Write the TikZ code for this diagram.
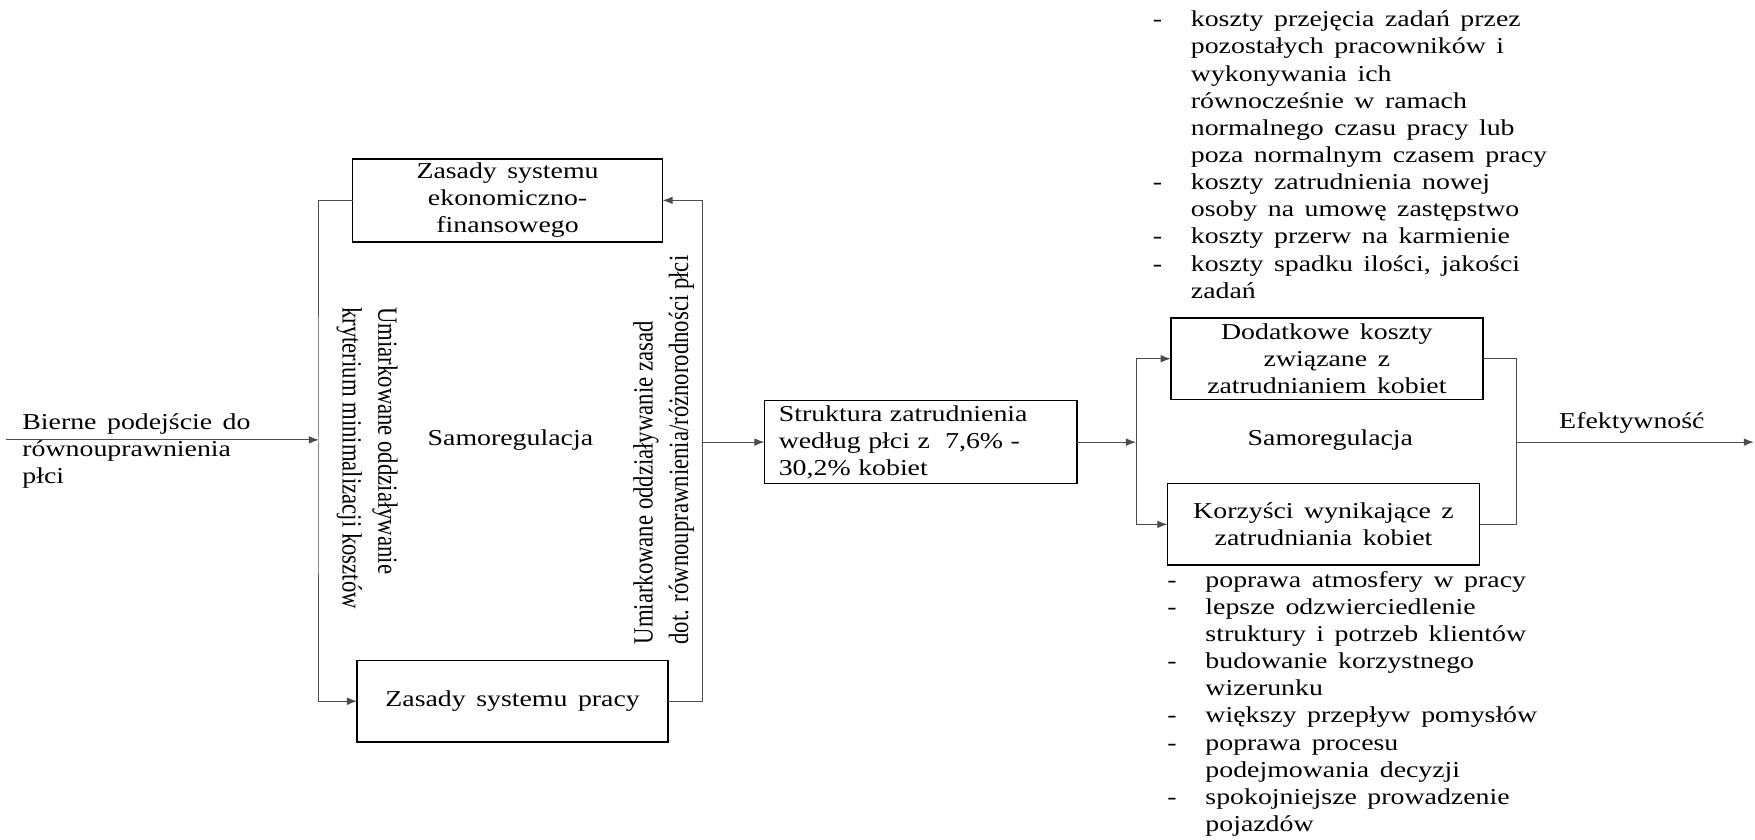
\documentclass[tikz,border=0pt]{standalone}
\usepackage{fontspec}
\setmainfont{Liberation Serif}[FakeStretch=1.225]
\newfontfamily\uprightserif{Liberation Serif}
\usetikzlibrary{arrows.meta}

% body text: wide word spacing as in the printed figure
\newcommand{\bodysize}{\fontsize{10.15pt}{12.12pt}\selectfont
  \spaceskip=4.7pt plus 1pt minus 0.5pt\relax}

\begin{document}
\begin{tikzpicture}[x=0.5pt, y=-0.5pt,
  every node/.style={inner sep=0pt, outer sep=0pt, font=\bodysize},
  box/.style={draw=black, line width=0.7pt, align=center},
  conn/.style={draw=black!70, line width=0.45pt},
  arr/.style={conn, -{Latex[length=4.5pt, width=3.4pt]}},
  vtext/.style={font=\uprightserif\fontsize{10.15pt}{13pt}\selectfont, align=left},
  lbl/.style={anchor=base},
]
\useasboundingbox (0,0) rectangle (1568,750);

% --- boxes ---
\node[box, minimum width=138.5pt, minimum height=37pt] (TB) at (453.5,179)
  {Zasady systemu\\ekonomiczno-\\finansowego};
\node[box, minimum width=139pt, minimum height=36.5pt] (BB) at (458,626.5)
  {Zasady systemu pracy};
\node[box, align=left, text width=126.7pt, inner xsep=6.4pt, minimum height=37pt] (SB) at (822.5,395)
  {Struktura zatrudnienia\\według płci z\ \ 7,6\% -\\30,2\% kobiet};
\node[box, minimum width=139.5pt, minimum height=36.5pt] (DB) at (1185.5,320.5)
  {Dodatkowe koszty\\związane z\\zatrudnianiem kobiet};
\node[box, minimum width=139.5pt, minimum height=36.5pt] (KB) at (1182.5,468.5)
  {Korzyści wynikające z\\zatrudniania kobiet};

% --- junction points ---
\coordinate (inL) at (5,393);
\coordinate (lx) at (285,393);
\coordinate (rx) at (628,395);
\coordinate (bx) at (1015,395);
\coordinate (ox) at (1355,395);
\coordinate (outR) at (1567,395);

% --- connectors ---
\draw[arr] (inL) -- (lx);
\draw[arr] (TB.west) -| (lx) |- (BB.west);
\draw[arr] (BB.east) -| (rx) |- (TB.east);
\draw[arr] (rx) -- (SB.west);
\draw[arr] (SB.east) -- (bx);
\draw[arr] (bx) |- (DB.west);
\draw[arr] (bx) |- (KB.west);
\draw[conn] (DB.east) -| (ox) |- (KB.east);
\draw[arr] (ox) -- (outR);

% --- labels ---
\node[anchor=base west] (passive) at (20,383.3)
  {\begin{tabular}[t]{@{}l@{}}Bierne podejście do\\równouprawnienia\\płci\end{tabular}};
\node[lbl] (selfL) at (456,397.6) {Samoregulacja};
\node[lbl] (selfR) at (1188.6,397.6) {Samoregulacja};
\node[lbl] (eff) at (1458,383) {Efektywność};

\node[vtext, xscale=1.225, rotate=-90, anchor=west] (crit) at (328,274.5)
  {Umiarkowane oddziaływanie\\kryterium minimalizacji kosztów};
\node[vtext, xscale=1.225, rotate=90, anchor=west] (equal) at (593,575.7)
  {Umiarkowane oddziaływanie zasad\\dot. równouprawnienia/różnorodności płci};

% --- lists of costs and benefits ---
\node[anchor=base west] (costs) at (1030,24)
  {\begin{tabular}[t]{@{}p{17pt}@{}l@{}}
  - & koszty przejęcia zadań przez\\
    & pozostałych pracowników i\\
    & wykonywania ich\\
    & równocześnie w ramach\\
    & normalnego czasu pracy lub\\
    & poza normalnym czasem pracy\\
  - & koszty zatrudnienia nowej\\
    & osoby na umowę zastępstwo\\
  - & koszty przerw na karmienie\\
  - & koszty spadku ilości, jakości\\
    & zadań
  \end{tabular}};
\node[anchor=base west] (gains) at (1043,524.7)
  {\begin{tabular}[t]{@{}p{17pt}@{}l@{}}
  - & poprawa atmosfery w pracy\\
  - & lepsze odzwierciedlenie\\
    & struktury i potrzeb klientów\\
  - & budowanie korzystnego\\
    & wizerunku\\
  - & większy przepływ pomysłów\\
  - & poprawa procesu\\
    & podejmowania decyzji\\
  - & spokojniejsze prowadzenie\\
    & pojazdów
  \end{tabular}};
\end{tikzpicture}
\end{document}
